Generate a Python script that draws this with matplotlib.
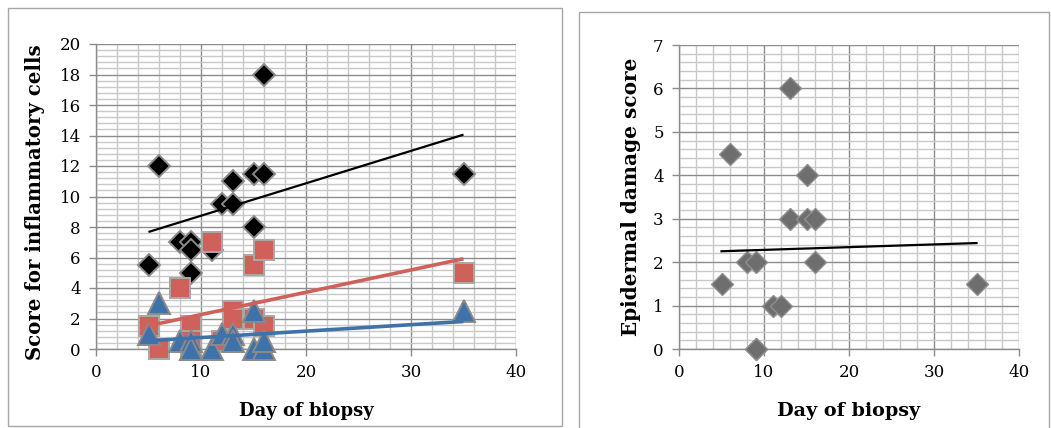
import numpy as np
import matplotlib
matplotlib.use("Agg")
import matplotlib.pyplot as plt
from matplotlib.patches import Rectangle
from matplotlib.ticker import MultipleLocator

# ---- data ----
days = [5, 6, 8, 9, 9, 9, 11, 12, 13, 13, 15, 15, 16, 16, 35]
score_black = [5.5, 12, 7, 7, 6.5, 5, 6.5, 9.5, 9.5, 11, 11.5, 8, 11.5, 18, 11.5]
score_red = [1.5, 0, 4, 1.5, 0.5, 0, 7, 0.5, 2.5, 2, 5.5, 2, 6.5, 1.5, 5]
score_blue = [1, 3, 0.5, 0, 0.5, 0, 0, 1, 1, 0.5, 2.5, 0, 0, 0.5, 2.5]
epidermal = [1.5, 4.5, 2, 2, 0, 0, 1, 1, 6, 3, 4, 3, 3, 2, 1.5]

left_yticks = [0, 2, 4, 6, 8, 10, 12, 14, 16, 18, 20]
right_yticks = [0, 1, 2, 3, 4, 5, 6, 7]
xticks = [0, 10, 20, 30, 40]

left_ylabel = "Score for inflammatory cells"
right_ylabel = "Epidermal damage score"
xlabel = "Day of biopsy"

# ---- style ----
plt.rcParams['font.family'] = ['DejaVu Serif']
W, H = 1051, 428
fig = plt.figure(figsize=(W / 100, H / 100), dpi=100)

def px(x0, y0, x1, y1):
    return [x0 / W, 1 - y1 / H, (x1 - x0) / W, (y1 - y0) / H]

# panel frames
fig.add_artist(Rectangle((8 / W, 1 - 426 / H), 554 / W, 418 / H, transform=fig.transFigure,
                         fill=False, edgecolor='#a6a6a6', linewidth=1.0))
fig.add_artist(Rectangle((579 / W, 1 - 440 / H), 470 / W, 428 / H, transform=fig.transFigure,
                         fill=False, edgecolor='#a6a6a6', linewidth=1.0))

MAJ = '#8c8c8c'
MIN = '#c8c8c8'

def style_axes(ax, ymax, ymin_step, yticks):
    ax.set_xlim(0, 40)
    ax.set_ylim(0, ymax)
    ax.set_xticks(xticks)
    ax.set_yticks(yticks)
    ax.xaxis.set_minor_locator(MultipleLocator(2))
    ax.yaxis.set_minor_locator(MultipleLocator(ymin_step))
    ax.grid(which='minor', color=MIN, linewidth=1.0)
    ax.grid(which='major', color=MAJ, linewidth=1.0)
    ax.set_axisbelow(True)
    for s in ['top', 'right']:
        ax.spines[s].set_visible(False)
    for s in ['left', 'bottom']:
        ax.spines[s].set_color(MAJ)
        ax.spines[s].set_linewidth(1.0)
    ax.tick_params(which='major', direction='out', length=5, color=MAJ, width=1.0,
                   labelsize=12, pad=6)
    ax.tick_params(which='minor', length=0)

# ---- left chart ----
ax1 = fig.add_axes(px(96, 44, 516, 349))
style_axes(ax1, 20, 0.4, left_yticks)
xs = np.array(days, dtype=float)
ax1.plot(days, score_black, linestyle='none', marker='D', markersize=11,
         markerfacecolor='black', markeredgecolor='#8a8a8a', markeredgewidth=1.4,
         zorder=3, clip_on=False)
ax1.plot(days, score_red, linestyle='none', marker='s', markersize=14.5,
         markerfacecolor='#cf615a', markeredgecolor='#a8a8a8', markeredgewidth=1.4,
         zorder=4, clip_on=False)
ax1.plot(days, score_blue, linestyle='none', marker='^', markersize=15.5,
         markerfacecolor='#3f72a9', markeredgecolor='#8a8a8a', markeredgewidth=1.4,
         zorder=5, clip_on=False)
xr = np.array([min(days), max(days)], dtype=float)
for ys, col, lw in [(score_black, 'black', 1.6), (score_red, '#cf615a', 2.6),
                    (score_blue, '#3f72a9', 2.6)]:
    k, b = np.polyfit(xs, np.array(ys, dtype=float), 1)
    ax1.plot(xr, k * xr + b, color=col, linewidth=lw, zorder=6, solid_capstyle='butt')
ax1.set_ylabel(left_ylabel, fontsize=14.2, fontweight='bold', labelpad=9)
ax1.yaxis.set_label_coords(-0.122, 0.48)
ax1.set_xlabel(xlabel, fontsize=13, fontweight='bold', labelpad=15)

# ---- right chart ----
ax2 = fig.add_axes(px(679, 45, 1019, 349))
style_axes(ax2, 7, 0.2, right_yticks)
ax2.plot(days, epidermal, linestyle='none', marker='D', markersize=11.5,
         markerfacecolor='#6e6e6e', markeredgecolor='#8f8f8f', markeredgewidth=1.0,
         zorder=3, clip_on=False)
k, b = np.polyfit(xs, np.array(epidermal, dtype=float), 1)
ax2.plot(xr, k * xr + b, color='black', linewidth=1.6, zorder=6)
ax2.set_ylabel(right_ylabel, fontsize=14.4, fontweight='bold', labelpad=9)
ax2.set_xlabel(xlabel, fontsize=13.8, fontweight='bold', labelpad=15)

fig.savefig('out.png', dpi=100)
